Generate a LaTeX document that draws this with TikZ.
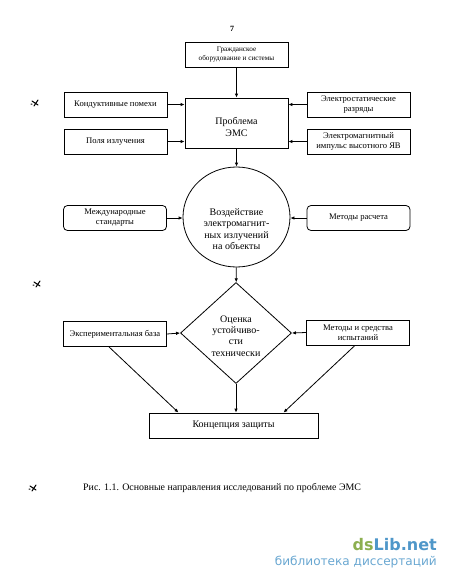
\documentclass[tikz,border=0pt]{standalone}
\usepackage{fontspec}
\setmainfont{Liberation Serif}
\newfontfamily\wmfont{DejaVu Sans}
\usetikzlibrary{shapes.geometric,arrows.meta}
\definecolor{wmgreen}{HTML}{8CAF50}
\definecolor{wmblue}{HTML}{4F97C9}
\tikzset{
  block/.style={draw, thick, minimum width=103pt, minimum height=25pt, align=center, inner sep=1pt, font=\fontsize{8.6}{10}\selectfont},
  softblock/.style={block, rounded corners=4pt},
  mainlabel/.style={font=\fontsize{10}{11.4}\selectfont, align=center},
  arr/.style={-{Latex[length=4pt,width=3.5pt]}, thick},
  speck/.style={line width=1pt, line cap=round}
}
\begin{document}
\begin{tikzpicture}[x=1pt, y=-1pt]
        \useasboundingbox (0,0) rectangle (450,582);
        % Page number
        \node[font=\bfseries\fontsize{8}{9}\selectfont] (page) at (232,29) {7};

        % Upper column
        \node[block, font=\fontsize{7.2}{9}\selectfont] (equip) at (236.5,54.5) {Гражданское\\оборудование и системы};
        \node[block, minimum height=50pt] (problem) at (236.5,123) {};
        \node[mainlabel] (problemtext) at (236.5,127) {Проблема\\ЭМС};

        % Boxes on both sides of the problem
        \node[block] (conduct) at (115.5,104.5) {Кондуктивные помехи};
        \node[block] (fields) at (115.5,141.5) {Поля излучения};
        \node[block] (static) at (358.5,104.5) {Электростатические\\разряды};
        \node[block] (pulse) at (358.5,141.5) {Электромагнитный\\импульс высотного ЯВ};

        % Central circle
        \node[draw, thick, ellipse, minimum width=107pt, minimum height=100pt, inner sep=0pt] (impact) at (236.5,217) {};
        \node[mainlabel] (impacttext) at (236.5,229) {Воздействие\\электромагнит-\\ных излучений\\на объекты};
        \node[softblock] (standards) at (115,218) {Международные\\стандарты};
        \node[softblock] (calc) at (358.5,218) {Методы расчета};

        % Diamond
        \node[draw, thick, diamond, minimum width=111pt, minimum height=101pt, inner sep=0pt] (assess) at (236,333) {};
        \node[mainlabel] (assesstext) at (236,336) {Оценка\\устойчиво-\\сти\\технически};
        \node[block] (base) at (115,334) {Экспериментальная база};
        \node[block] (tests) at (358,332.5) {Методы и средства\\испытаний};

        % Bottom box
        \node[block, minimum width=169pt, mainlabel] (concept) at (233.5,425.5) {Концепция защиты};

        % Vertical connections
        \draw[arr] (equip) -- (problem);
        \draw[arr] (problem) -- (impact);
        \draw[arr] (impact) -- (assess);
        \draw[arr] (assess) -- (assess |- concept.north);

        % Connections from the sides
        \foreach \n in {conduct,fields}{
            \draw[arr] (\n) -- (\n -| problem.west);
          }
        \foreach \n in {static,pulse}{
            \draw[arr] (\n) -- (\n -| problem.east);
          }
        \draw[arr] (standards) -- (impact.west |- standards);
        \draw[arr] (calc) -- (impact.east |- calc);
        \draw[arr] (base.east) -- (assess.west);
        \draw[arr] (tests.west) -- (assess.east);

        % Diagonals to the bottom box
        \draw[arr] ([xshift=-6pt]base.south) -- ([xshift=-55pt]concept.north);
        \draw[arr] ([xshift=-3pt]tests.south) -- ([xshift=50pt]concept.north);

        % Caption
        \node[font=\fontsize{9.9}{11}\selectfont, anchor=west, inner sep=0pt] (caption) at (83,488) {Рис. 1.1. Основные направления исследований по проблеме ЭМС};

        % Scan marks on the left
        \foreach \x/\y in {35/103,37/284,33/488}{
            \draw[speck] (\x-3,\y-2) -- (\x+3,\y+2) (\x+3,\y-3) -- (\x-1,\y+3) (\x-4,\y+1) -- (\x-3,\y+1);
          }

        % Watermark
        \node[font=\wmfont\bfseries\fontsize{16}{18}\selectfont, anchor=east, inner sep=0pt] (wmtop) at (437,545) {\textcolor{wmgreen}{ds}\textcolor{wmblue}{Lib.net}};
        \node[font=\wmfont\fontsize{12.1}{14}\selectfont, text=wmblue!85, anchor=east, inner sep=0pt] (wmbottom) at (437,562) {библиотека диссертаций};
      \end{tikzpicture}
\end{document}
